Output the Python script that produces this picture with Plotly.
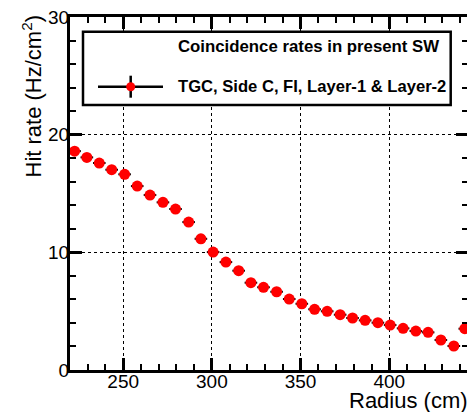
import plotly.graph_objects as go

radius_cm = [222.6, 229.5, 236.5, 243.5, 250.8, 257.9, 265.1, 272.4, 279.5, 286.9,
             293.8, 300.7, 307.9, 315.1, 322.0, 329.1, 336.5, 343.6, 350.7, 357.9,
             365.0, 372.3, 379.3, 386.4, 393.6, 400.5, 407.8, 415.0, 421.9, 429.1,
             436.4, 442.6]
hit_rate = [18.60, 18.07, 17.59, 17.02, 16.63, 15.63, 14.87, 14.25, 13.68, 12.57,
            11.15, 10.02, 9.17, 8.44, 7.42, 7.03, 6.65, 6.03, 5.63, 5.16,
            4.99, 4.70, 4.42, 4.22, 4.02, 3.82, 3.54, 3.31, 3.20, 2.55,
            2.04, 3.51]
x_err = 3.55
y_err = 0.15

legend_title = "Coincidence rates in present SW"
series_name = "TGC, Side C, FI, Layer-1 & Layer-2"
x_title = "Radius (cm)"
y_title = "Hit rate (Hz/cm<sup>2</sup>)"

FONT = "Liberation Sans, Arial, Helvetica, sans-serif"

# page body has an 8px default margin; size the figure so it fits the window
OFF = 8
W, H = 475 - OFF, 412 - OFF
# plot area in screen pixels: x 70..468, y 17..370
SX0, SX1, SY0, SY1 = 70, 468, 17, 370
L, T = SX0 - OFF, SY0 - OFF
R, B = W - (SX1 - OFF), H - (SY1 - OFF)
PW, PH = SX1 - SX0, SY1 - SY0


def px(xs):
    return (xs - SX0) / PW


def py(ys):
    return (SY1 - ys) / PH


fig = go.Figure()
fig.add_trace(go.Scatter(
    x=radius_cm, y=hit_rate, mode="markers", name=series_name,
    marker=dict(color="#ff0000", size=11, line=dict(width=0)),
    error_x=dict(type="constant", value=x_err, color="black", thickness=2, width=0),
    error_y=dict(type="constant", value=y_err, color="black", thickness=2, width=0),
    showlegend=False, cliponaxis=True,
))

axis_common = dict(
    showline=True, linewidth=3, linecolor="black", mirror="ticks",
    ticks="inside", ticklen=12, tickwidth=2.5, tickcolor="black",
    showgrid=True, gridcolor="black", gridwidth=1.3, griddash="dot",
    zeroline=False, automargin=False, ticklabeloverflow="allow",
    tickfont=dict(family=FONT, size=19, color="black"),
)

fig.update_xaxes(range=[220, 444.4], dtick=50, tick0=0, ticklabelstandoff=-8,
                 minor=dict(dtick=10, ticks="inside", ticklen=6, tickwidth=2, tickcolor="black", showgrid=False),
                 **axis_common)
fig.update_yaxes(range=[0, 30], dtick=10, tick0=0, ticklabelstandoff=-6,
                 minor=dict(dtick=2, ticks="inside", ticklen=6, tickwidth=2, tickcolor="black", showgrid=False),
                 **axis_common)

shapes = [
    dict(type="rect", xref="paper", yref="paper", x0=px(83), x1=px(450.7), y0=py(105), y1=py(31.7),
         line=dict(color="black", width=2.5), fillcolor="white", layer="above"),
    dict(type="line", xref="paper", yref="paper", x0=px(98), x1=px(163), y0=py(86.7), y1=py(86.7),
         line=dict(color="black", width=2.5), layer="above"),
    dict(type="line", xref="paper", yref="paper", x0=px(130.7), x1=px(130.7), y0=py(97.7), y1=py(75.7),
         line=dict(color="black", width=2.5), layer="above"),
    dict(type="circle", xref="paper", yref="paper", x0=px(126.2), x1=px(135.2), y0=py(91.2), y1=py(82.2),
         line=dict(color="#ff0000", width=0), fillcolor="#ff0000", layer="above"),
]

annotations = [
    dict(text="<b>" + legend_title + "</b>", xref="paper", yref="paper", x=px(176), y=py(47),
         xanchor="left", yanchor="middle", showarrow=False,
         font=dict(family=FONT, size=16.8, color="black")),
    dict(text="<b>" + series_name + "</b>", xref="paper", yref="paper", x=px(176), y=py(86.7),
         xanchor="left", yanchor="middle", showarrow=False,
         font=dict(family=FONT, size=16.6, color="black")),
    dict(text=x_title, xref="paper", yref="paper", x=px(470), y=py(414.5),
         xanchor="right", yanchor="bottom", showarrow=False,
         font=dict(family=FONT, size=22, color="black")),
    dict(text=y_title, xref="paper", yref="paper", x=px(47), y=py(13),
         xanchor="right", yanchor="top", textangle=-90, showarrow=False,
         font=dict(family=FONT, size=22, color="black")),
]

fig.update_layout(
    width=W, height=H,
    margin=dict(l=L, r=R, t=T, b=B, autoexpand=False),
    paper_bgcolor="white", plot_bgcolor="white",
    shapes=shapes, annotations=annotations,
    showlegend=False,
    font=dict(family=FONT, color="black"),
)

fig.write_html("out.html")
